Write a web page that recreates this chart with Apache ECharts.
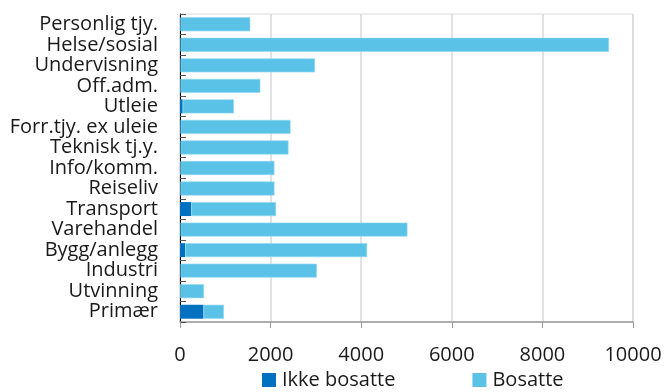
<!DOCTYPE html>
<html>
<head>
<meta charset="utf-8">
<script src="https://cdn.jsdelivr.net/npm/echarts@6/dist/echarts.min.js"></script>
<style>html,body{margin:0;padding:0;background:#fff}#c{width:665px;height:392px}</style>
</head>
<body>
<div id="c"></div>
<script>
var categories = ["Personlig tjy.","Helse/sosial","Undervisning","Off.adm.","Utleie","Forr.tjy. ex uleie","Teknisk tj.y.","Info/komm.","Reiseliv","Transport","Varehandel","Bygg/anlegg","Industri","Utvinning","Primær"];
var ikkeBosatte = [10, 15, 15, 10, 60, 15, 15, 10, 10, 250, 15, 115, 15, 5, 520];
var bosatte = [1540, 9455, 2965, 1763, 1130, 2425, 2380, 2075, 2075, 1870, 5005, 4015, 3005, 525, 450];
var xTicks = [0, 2000, 4000, 6000, 8000, 10000];

var font = "'Open Sans', 'Noto Sans', sans-serif";
var chart = echarts.init(document.getElementById('c'), null, {renderer: 'canvas'});
chart.setOption({
  animation: false,
  textStyle: {fontFamily: font},
  grid: {left: 180, right: 32, top: 14, bottom: 70, show: true, borderColor: '#d9d9d9', borderWidth: 1},
  legend: {
    data: ['Ikke bosatte', 'Bosatte'],
    left: 262, top: 370, padding: 0,
    itemWidth: 14, itemHeight: 14, itemGap: 77,
    icon: 'rect',
    itemStyle: {borderWidth: 0},
    textStyle: {fontSize: 20, color: '#1a1a1a', fontFamily: font, padding: [0, 0, 0, 1]}
  },
  xAxis: {
    type: 'value', min: xTicks[0], max: xTicks[xTicks.length - 1], interval: 2000,
    axisLine: {show: true, lineStyle: {color: '#999', width: 1.5}},
    axisTick: {show: true, length: 6, lineStyle: {color: '#999'}},
    axisLabel: {fontSize: 20, color: '#1a1a1a', margin: 23, fontFamily: font,
      formatter: function (v) { return String(v); }},
    splitLine: {show: true, lineStyle: {color: '#d9d9d9', width: 1.5}}
  },
  yAxis: {
    type: 'category', data: categories, inverse: true,
    axisLine: {show: true, lineStyle: {color: '#000', width: 1}},
    axisTick: {show: true, inside: true, length: 6, lineStyle: {color: '#555'}},
    axisLabel: {fontSize: 20, color: '#1a1a1a', margin: 22, interval: 0, fontFamily: font},
    splitLine: {show: false}
  },
  series: [
    {name: 'Ikke bosatte', type: 'bar', stack: 'a', data: ikkeBosatte, barCategoryGap: '32%',
     itemStyle: {color: '#0070C0'}},
    {name: 'Bosatte', type: 'bar', stack: 'a', data: bosatte, barCategoryGap: '32%',
     itemStyle: {color: '#5BC2E7', borderColor: '#8FD6F0', borderWidth: 0.6}}
  ]
});
</script>
</body>
</html>
